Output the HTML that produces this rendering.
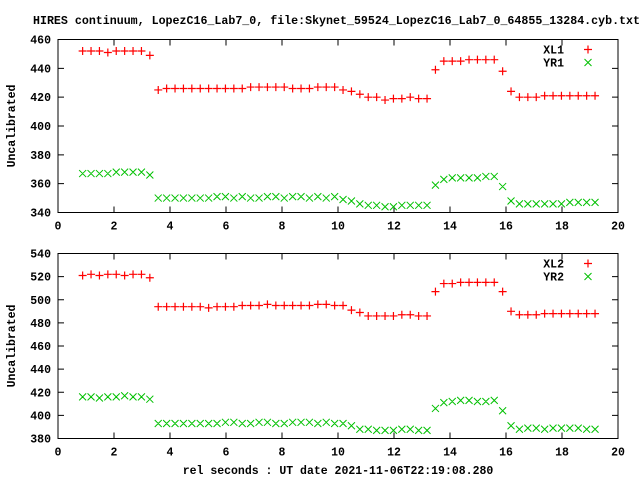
<!DOCTYPE html>
<html><head><meta charset="utf-8"><style>
html,body{margin:0;padding:0;background:#fff;}
svg{display:block;}
text{font-family:"Liberation Mono",monospace;font-weight:bold;font-size:11.5px;fill:#000;}
</style></head><body>
<svg id="chart" width="640" height="480" xmlns="http://www.w3.org/2000/svg">
<text x="33" y="24" textLength="607" lengthAdjust="spacingAndGlyphs">HIRES continuum, LopezC16_Lab7_0, file:Skynet_59524_LopezC16_Lab7_0_64855_13284.cyb.txt</text>
<text x="338" y="474" text-anchor="middle">rel seconds : UT date 2021-11-06T22:19:08.280</text>
<g id="p1"></g>
<g id="p2"></g>
</svg>
<script>
const times=[0.88,1.18,1.48,1.78,2.08,2.38,2.68,2.98,3.28,3.58,3.88,4.18,4.48,4.78,5.08,5.38,5.68,5.98,6.28,6.58,6.88,7.18,7.48,7.78,8.08,8.38,8.68,8.98,9.28,9.58,9.88,10.18,10.48,10.78,11.08,11.38,11.68,11.98,12.28,12.58,12.88,13.18,13.48,13.78,14.08,14.38,14.68,14.98,15.28,15.58,15.88,16.18,16.48,16.78,17.08,17.38,17.68,17.98,18.28,18.58,18.88,19.18];
const xl1=[452,452,452,451,452,452,452,452,449,425,426,426,426,426,426,426,426,426,426,426,427,427,427,427,427,426,426,426,427,427,427,425,424,422,420,420,418,419,419,420,419,419,439,445,445,445,446,446,446,446,438,424,420,420,420,421,421,421,421,421,421,421];
const yr1=[367,367,367,367,368,368,368,368,366,350,350,350,350,350,350,350,351,351,350,351,350,350,351,351,350,351,351,350,351,350,351,349,348,346,345,345,344,344,345,345,345,345,359,363,364,364,364,364,365,365,358,348,346,346,346,346,346,346,347,347,347,347];
const xl2=[521,522,521,522,522,521,522,522,519,494,494,494,494,494,494,493,494,494,494,495,495,495,496,495,495,495,495,495,496,496,495,495,491,489,486,486,486,486,487,487,486,486,507,514,514,515,515,515,515,515,507,490,487,487,487,488,488,488,488,488,488,488];
const yr2=[416,416,415,416,416,417,416,416,414,393,393,393,393,393,393,393,393,394,394,393,393,394,394,393,393,394,394,394,393,394,393,393,391,388,388,387,387,387,388,388,387,387,406,411,412,413,413,412,412,413,404,391,388,389,389,388,389,389,389,389,388,388];
const xTicks=[0,2,4,6,8,10,12,14,16,18,20];
const yTicks1=[340,360,380,400,420,440,460];
const yTicks2=[380,400,420,440,460,480,500,520,540];
const NS="http://www.w3.org/2000/svg";
function mk(tag,attrs,parent){const e=document.createElementNS(NS,tag);for(const k in attrs)e.setAttribute(k,attrs[k]);parent.appendChild(e);return e;}
function panel(g,top,bot,ymin,ymax,yTicks,s1,s2,n1,n2){
  const L=58,R=618;
  const X=v=>L+(v-0)/(20-0)*(R-L);
  const Y=v=>bot-(v-ymin)/(ymax-ymin)*(bot-top);
  const frame=mk('rect',{x:L,y:top,width:R-L,height:bot-top,fill:'none',stroke:'#000','stroke-width':1},g);
  
  
  yTicks.forEach(t=>{
    const y=Y(t);
    const tk=mk('path',{d:`M${L} ${y}h6M${R} ${y}h-6`,stroke:'#000'},g);
    
    
    const tl=mk('text',{x:L-7,y:y+4,'text-anchor':'end'},g);
    tl.textContent=t;
    
    
  });
  xTicks.forEach(t=>{
    const x=X(t);
    const tk=mk('path',{d:`M${x} ${bot}v-6M${x} ${top}v6`,stroke:'#000'},g);
    
    
    const tl=mk('text',{x:x,y:bot+17,'text-anchor':'middle'},g);
    tl.textContent=t;
    
    
  });
  const yl=mk('text',{x:0,y:0,'text-anchor':'middle',transform:`translate(15,${(top+bot)/2}) rotate(-90)`},g);
  yl.textContent='Uncalibrated';
  
  
  const plus=(x,y)=>`M${x-4} ${y}h8M${x} ${y-4}v8`;
  const cross=(x,y)=>`M${x-3.5} ${y-3.5}l7 7M${x-3.5} ${y+3.5}l7 -7`;
  let d1='',d2='';
  times.forEach((t,i)=>{d1+=plus(X(t),Y(s1[i]));d2+=cross(X(t),Y(s2[i]));});
  const p1=mk('path',{d:d1,stroke:'#ff0000','stroke-width':1.2,fill:'none'},g);
  
  
  const p2=mk('path',{d:d2,stroke:'#00c000','stroke-width':1,fill:'none'},g);
  
  
  const l1=mk('text',{x:564,y:top+14,'text-anchor':'end'},g);
  l1.textContent=n1;
  
  
  const m1=mk('path',{d:plus(588,top+10),stroke:'#ff0000','stroke-width':1.2},g);
  
  
  const l2=mk('text',{x:564,y:top+27,'text-anchor':'end'},g);
  l2.textContent=n2;
  
  
  const m2=mk('path',{d:cross(588,top+23),stroke:'#00c000'},g);
  
  
}
panel(document.getElementById('p1'),39.5,212.5,340,460,yTicks1,xl1,yr1,'XL1','YR1');
panel(document.getElementById('p2'),253.5,438.5,380,540,yTicks2,xl2,yr2,'XL2','YR2');
</script>
</body></html>
